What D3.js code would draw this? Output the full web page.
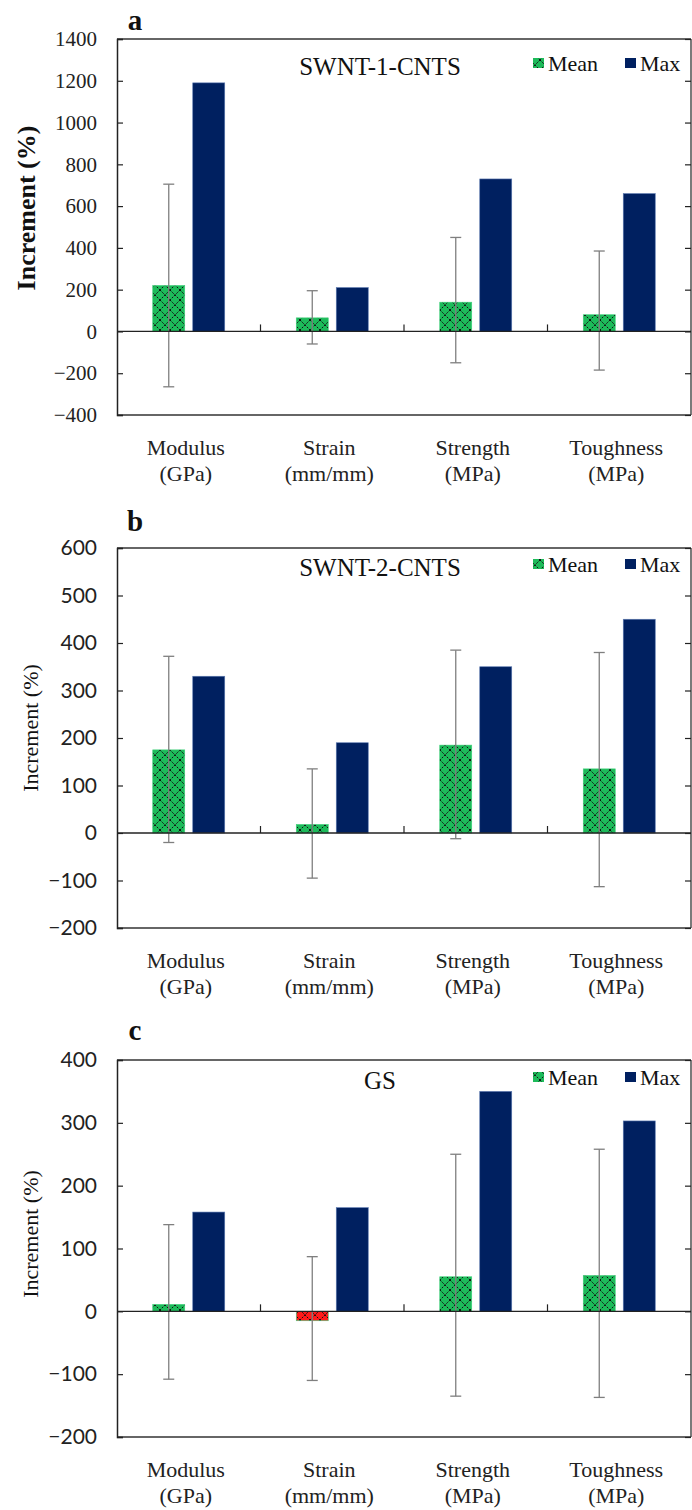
<!DOCTYPE html>
<html><head><meta charset="utf-8">
<script src="https://cdn.jsdelivr.net/npm/d3@7"></script>
<style>body{margin:0;background:#fff}svg{display:block}</style>
</head><body>
<script>
const categories = ["Modulus", "Strain", "Strength", "Toughness"];
const units = ["(GPa)", "(mm/mm)", "(MPa)", "(MPa)"];
const series = ["Mean", "Max"];

const titleA = "SWNT-1-CNTS";
const meanA = [220, 65, 140, 80];
const errHiA = [705, 195, 450, 385];
const errLoA = [-265, -60, -150, -185];
const maxA = [1190, 210, 730, 660];
const ticksA = [-400, -200, 0, 200, 400, 600, 800, 1000, 1200, 1400];

const titleB = "SWNT-2-CNTS";
const meanB = [175, 18, 185, 135];
const errHiB = [372, 135, 385, 380];
const errLoB = [-20, -95, -12, -113];
const maxB = [330, 190, 350, 450];
const ticksB = [-200, -100, 0, 100, 200, 300, 400, 500, 600];

const titleC = "GS";
const meanC = [11, -15, 55, 57];
const errHiC = [138, 87, 250, 258];
const errLoC = [-108, -110, -135, -137];
const maxC = [158, 165, 350, 303];
const ticksC = [-200, -100, 0, 100, 200, 300, 400];

const W = 692, H = 1510;
const serif = "'Liberation Serif','Times New Roman',serif";
const sans = "Lato,'Open Sans',sans-serif";

const svg = d3.select("body").append("svg").attr("width", W).attr("height", H);
const defs = svg.append("defs");
function makePattern(id, fill) {
  const p = defs.append("pattern").attr("id", id).attr("patternUnits", "userSpaceOnUse")
    .attr("width", 10).attr("height", 10);
  p.append("rect").attr("width", 10).attr("height", 10).attr("fill", fill);
  p.append("path").attr("d", "M0,0L10,10M10,0L0,10").attr("stroke", "#111")
    .attr("stroke-width", 1).attr("stroke-dasharray", "2,1.2").attr("fill", "none");
}
makePattern("pg", "#1dbb5a");
makePattern("pr", "#ff1a1a");

const panels = [
  {label: "a", title: titleA, mean: meanA, hi: errHiA, lo: errLoA, max: maxA, ticks: ticksA,
   top: 39, bottom: 415, tickFont: serif, ylabel: "Increment (%)", ybold: true, ylabSize: 26, ylabX: 35, ylabY: 208, legY: 71, letterY: 30},
  {label: "b", title: titleB, mean: meanB, hi: errHiB, lo: errLoB, max: maxB, ticks: ticksB,
   top: 548, bottom: 928, tickFont: sans, ylabel: "Increment  (%)", ybold: false, ylabSize: 22, ylabX: 38, ylabY: 728, legY: 572, letterY: 531},
  {label: "c", title: titleC, mean: meanC, hi: errHiC, lo: errLoC, max: maxC, ticks: ticksC,
   top: 1060, bottom: 1437, tickFont: sans, ylabel: "Increment  (%)", ybold: false, ylabSize: 22, ylabX: 38, ylabY: 1234, legY: 1085, letterY: 1040}
];

const left = 117, right = 691;
const x = d3.scaleBand().domain(categories).range([left, right]).paddingInner(0).paddingOuter(0);
const xs = d3.scaleBand().domain(series).range([0, x.bandwidth()]).paddingInner(0.2).paddingOuter(0.894);

panels.forEach(p => {
  const g = svg.append("g");
  const y = d3.scaleLinear().domain([p.ticks[0], p.ticks[p.ticks.length - 1]]).range([p.bottom, p.top]);

  categories.forEach((c, i) => {
    const xm = x(c) + xs("Mean");
    const xM = x(c) + xs("Max");
    const bw = xs.bandwidth();
    const m = p.mean[i];
    g.append("rect").attr("x", xm).attr("y", y(Math.max(0, m))).attr("width", bw)
      .attr("height", Math.abs(y(m) - y(0)))
      .attr("fill", m < 0 ? "url(#pr)" : "url(#pg)")
      .attr("stroke", "#3fd07a").attr("stroke-width", 0.6);
    const M = p.max[i];
    g.append("rect").attr("x", xM).attr("y", y(Math.max(0, M))).attr("width", bw)
      .attr("height", Math.abs(y(M) - y(0)))
      .attr("fill", "#002060").attr("stroke", "#5b78b0").attr("stroke-width", 0.6);
    const cx = xm + bw / 2;
    const eb = g.append("g").attr("stroke", "#7f7f7f").attr("stroke-width", 1.3);
    eb.append("line").attr("x1", cx).attr("x2", cx).attr("y1", y(p.hi[i])).attr("y2", y(p.lo[i]));
    eb.append("line").attr("x1", cx - 5.5).attr("x2", cx + 5.5).attr("y1", y(p.hi[i])).attr("y2", y(p.hi[i]));
    eb.append("line").attr("x1", cx - 5.5).attr("x2", cx + 5.5).attr("y1", y(p.lo[i])).attr("y2", y(p.lo[i]));
  });

  const fr = g.append("g").attr("stroke", "#333").attr("stroke-width", 1.3).attr("fill", "none");
  fr.append("line").attr("x1", left).attr("x2", right).attr("y1", p.top).attr("y2", p.top);
  fr.append("line").attr("x1", right).attr("x2", right).attr("y1", p.top).attr("y2", p.bottom);
  fr.append("line").attr("x1", left).attr("x2", right).attr("y1", p.bottom).attr("y2", p.bottom);

  g.append("line").attr("x1", left).attr("x2", right).attr("y1", y(0)).attr("y2", y(0))
    .attr("stroke", "#222").attr("stroke-width", 1.3);
  categories.slice(1).forEach(c => {
    g.append("line").attr("x1", x(c)).attr("x2", x(c)).attr("y1", y(0)).attr("y2", y(0) - 7)
      .attr("stroke", "#222").attr("stroke-width", 1.2);
  });

  const ax = g.append("g").attr("transform", `translate(${left},0)`)
    .call(d3.axisLeft(y).tickValues(p.ticks).tickSize(-6).tickPadding(20).tickFormat(d3.format("d")));
  ax.select(".domain").attr("stroke", "#222").attr("stroke-width", 1.5);
  ax.selectAll(".tick line").attr("stroke", "#222").attr("stroke-width", 1.2);
  ax.selectAll(".tick text").attr("font-family", p.tickFont).attr("font-size", 21).attr("fill", "#222");

  const ar = g.append("g").attr("transform", `translate(${right},0)`)
    .call(d3.axisRight(y).tickValues(p.ticks).tickSize(-6).tickFormat(""));
  ar.select(".domain").remove();
  ar.selectAll(".tick line").attr("stroke", "#222").attr("stroke-width", 1.2);

  categories.forEach((c, i) => {
    const t = g.append("text").attr("text-anchor", "middle").attr("font-family", serif)
      .attr("font-size", 22).attr("fill", "#222");
    t.append("tspan").attr("x", x(c) + x.bandwidth() / 2 - 3).attr("y", p.bottom + 40).text(c);
    t.append("tspan").attr("x", x(c) + x.bandwidth() / 2 - 3).attr("y", p.bottom + 66).text(units[i]);
  });

  g.append("text").attr("transform", `translate(${p.ylabX},${p.ylabY}) rotate(-90)`)
    .attr("text-anchor", "middle").attr("font-family", serif).attr("font-size", p.ylabSize)
    .attr("font-weight", p.ybold ? "bold" : "normal").attr("fill", "#111").text(p.ylabel);

  g.append("text").attr("x", 135).attr("y", p.letterY).attr("text-anchor", "middle")
    .attr("font-family", serif).attr("font-weight", "bold").attr("font-size", 29).attr("fill", "#111").text(p.label);

  g.append("text").attr("x", 380).attr("y", p.legY + 4).attr("text-anchor", "middle")
    .attr("font-family", serif).attr("font-size", 25).attr("fill", "#111").text(p.title);

  const lg = g.append("g").attr("font-family", serif).attr("font-size", 22).attr("fill", "#111");
  lg.append("rect").attr("x", 533).attr("y", p.legY - 13).attr("width", 11).attr("height", 10)
    .attr("fill", "url(#pg)");
  lg.append("text").attr("x", 548).attr("y", p.legY).text("Mean");
  lg.append("rect").attr("x", 625).attr("y", p.legY - 13).attr("width", 11).attr("height", 10)
    .attr("fill", "#002060");
  lg.append("text").attr("x", 640).attr("y", p.legY).text("Max");
});
</script>
</body></html>
